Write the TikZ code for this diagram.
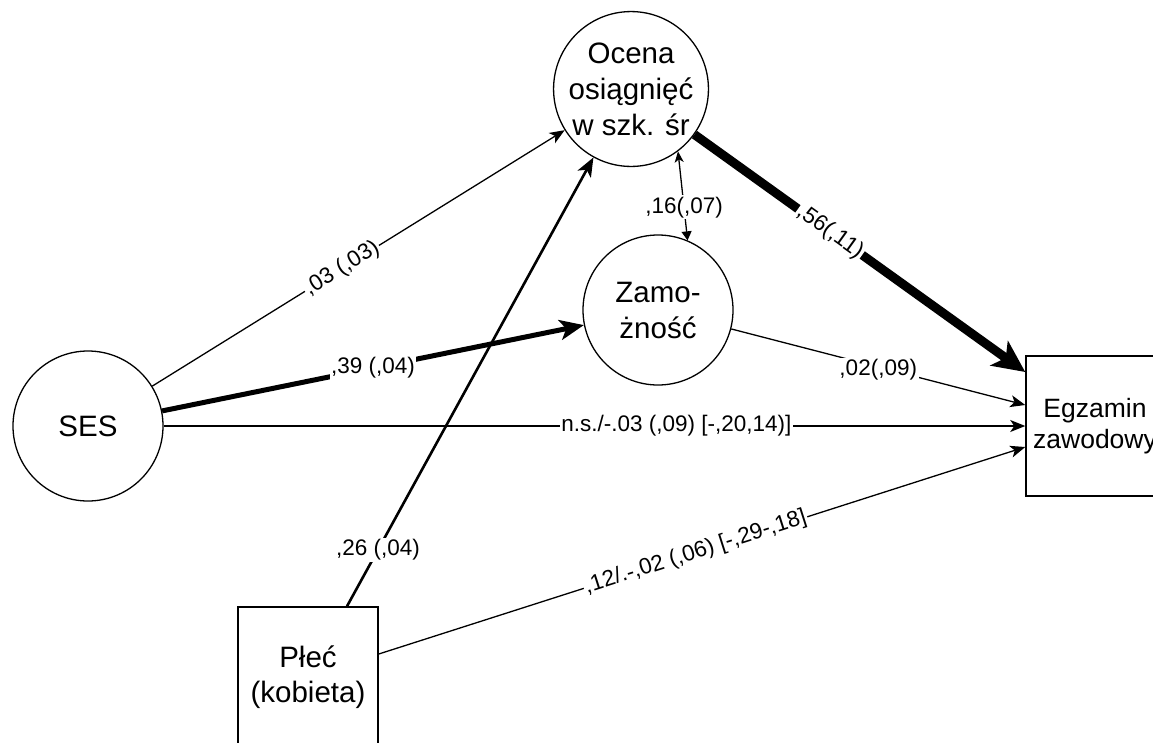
\documentclass[tikz,border=0pt]{standalone}
\usepackage{fontspec}
\setmainfont{Liberation Sans}
\usetikzlibrary{arrows.meta,calc}
\tikzset{
  circ/.style={circle,draw,line width=1.3pt,minimum size=150pt,inner sep=0pt,align=center,font=\fontsize{29.5}{36}\selectfont},
  boxnode/.style={rectangle,draw,line width=1.5pt,minimum width=140pt,minimum height=140pt,inner sep=0pt,align=center,font=\fontsize{29.5}{35}\selectfont},
  lbl/.style={fill=white,inner sep=1.5pt,font=\fontsize{22.5}{26}\selectfont},
  thinarr/.style={line width=1.3pt,-{Stealth[length=15pt,width=12pt,inset=4pt]}},
  medarr/.style={line width=2.6pt,-{Stealth[length=19pt,width=15pt,inset=5pt]}},
  thickarr/.style={line width=5pt,-{Stealth[length=24pt,width=20pt,inset=6pt]}},
  vthickarr/.style={line width=9pt,-{Stealth[length=32pt,width=30pt,inset=8pt]}},
  biarr/.style={line width=1.3pt,{Stealth[length=11pt,width=9pt,inset=3pt]}-{Triangle[length=9pt,width=10pt]}}
}
\begin{document}
\begin{tikzpicture}[x=1pt,y=-1pt]
\clip (0,0) rectangle (1153,742);
\fill[white] (0,0) rectangle (1153,742);
\node[circ] (ses) at (88,426) {SES};
\node[circ] (ocena) at (631,89) {Ocena\\osiągnięć\\w szk. śr};
\node[circ] (zam) at (658,310) {Zamo-\\żność};
\node[boxnode,minimum width=138pt,font=\fontsize{26.5}{31}\selectfont] (egz) at (1095,426) {Egzamin\\zawodowy};
\node[boxnode] (ple) at (308,677) {Płeć\\(kobieta)};

\draw[thinarr] (ses) -- node[lbl,sloped,pos=0.46] {,03 (,03)} (ocena);
\draw[thickarr] (ses) -- node[lbl,pos=0.5] {,39 (,04)} (zam);
\draw[thinarr] (ses) -- node[lbl,pos=0.595] {n.s./-.03 (,09) [-,20,14)]} (egz.west);
\draw[thinarr] (zam) -- node[lbl,pos=0.5,yshift=-3pt] {,02(,09)} ([yshift=21pt]egz.west);
\draw[vthickarr] (ocena) -- node[lbl,sloped,pos=0.41] {,56(,11)} ([yshift=54pt]egz.west);
\draw[medarr] ([xshift=39pt]ple.north) -- node[lbl,pos=0.126] {,26 (,04)} (ocena);
\draw[thinarr] ([yshift=23pt]ple.east) -- node[lbl,sloped,pos=0.49] {,12/.-,02 (,06) [-,29-,18]} ([yshift=-21pt]egz.west);
\draw[biarr] (ocena.-53) -- node[lbl,pos=0.63] {,16(,07)} (zam.67);
\end{tikzpicture}
\end{document}
